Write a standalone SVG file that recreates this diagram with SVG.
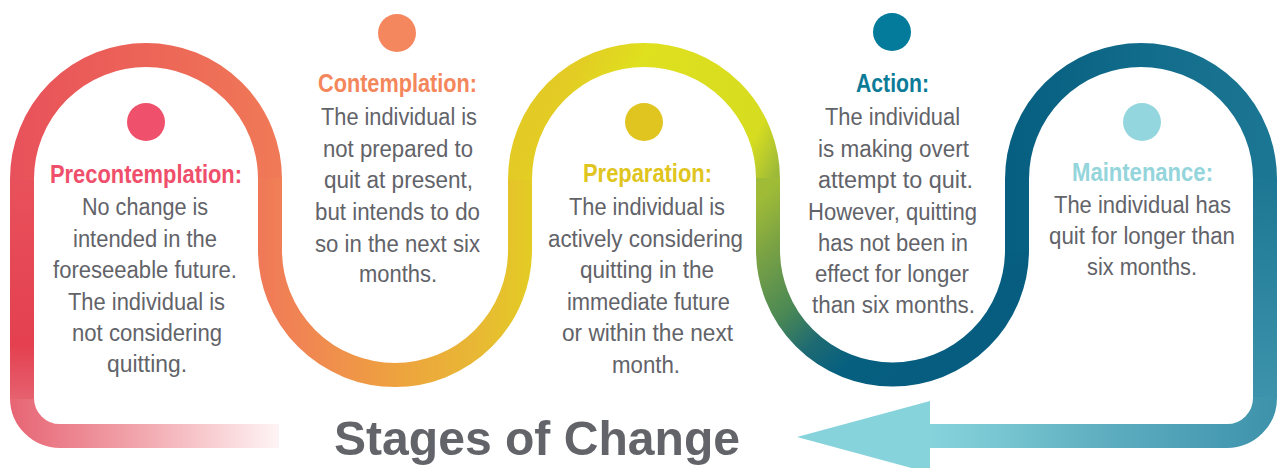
<svg xmlns="http://www.w3.org/2000/svg" width="1278" height="468" viewBox="0 0 1278 468">
<style>
.seg{fill:none;stroke-width:24;stroke-linecap:butt;stroke-linejoin:round}
.t{font-family:"Liberation Sans",Arial,sans-serif;font-weight:bold;font-size:25px}
.b{font-family:"Liberation Sans",Arial,sans-serif;font-size:23.5px;fill:#626369}
.h{font-family:"Liberation Sans",Arial,sans-serif;font-weight:bold;font-size:48px;fill:#636469}
</style>
<defs>
<linearGradient id="gBL" gradientUnits="userSpaceOnUse" x1="10" y1="0" x2="279" y2="0">
<stop offset="0" stop-color="#e76474"/><stop offset="0.15" stop-color="#ea7985"/><stop offset="0.5" stop-color="#f2a9b0"/><stop offset="0.8" stop-color="#f9d6d9"/><stop offset="1" stop-color="#fef4f5"/>
</linearGradient>
<linearGradient id="gL" gradientUnits="userSpaceOnUse" x1="0" y1="179" x2="0" y2="436">
<stop offset="0" stop-color="#e8515b"/><stop offset="0.646" stop-color="#e4404f"/><stop offset="0.85" stop-color="#e6606e"/><stop offset="1" stop-color="#e9707d"/>
</linearGradient>
<linearGradient id="gR" gradientUnits="userSpaceOnUse" x1="10" y1="0" x2="282" y2="0">
<stop offset="0" stop-color="#e8515b"/><stop offset="0.5" stop-color="#ec6457"/><stop offset="1" stop-color="#f07a57"/>
</linearGradient>
<linearGradient id="gO" gradientUnits="userSpaceOnUse" x1="258" y1="0" x2="532" y2="0">
<stop offset="0" stop-color="#f07858"/><stop offset="0.18" stop-color="#f08752"/><stop offset="0.5" stop-color="#eea23f"/><stop offset="0.8" stop-color="#e8b834"/><stop offset="1" stop-color="#e3cc24"/>
</linearGradient>
<linearGradient id="gY" gradientUnits="userSpaceOnUse" x1="520" y1="100" x2="780" y2="230">
<stop offset="0" stop-color="#e3c926"/><stop offset="0.12" stop-color="#e3cc24"/><stop offset="0.31" stop-color="#dfe01e"/><stop offset="0.78" stop-color="#d6dc20"/><stop offset="0.89" stop-color="#a2bd36"/><stop offset="1" stop-color="#79a243"/>
</linearGradient>
<linearGradient id="gG" gradientUnits="userSpaceOnUse" x1="768" y1="190" x2="918" y2="360">
<stop offset="0" stop-color="#a0bc36"/><stop offset="0.2" stop-color="#7aa244"/><stop offset="0.46" stop-color="#4a8855"/><stop offset="0.64" stop-color="#1e6a72"/><stop offset="0.8" stop-color="#07607f"/><stop offset="1" stop-color="#065d80"/>
</linearGradient>
<linearGradient id="gB" gradientUnits="userSpaceOnUse" x1="1005" y1="0" x2="1277" y2="0">
<stop offset="0" stop-color="#065e80"/><stop offset="0.5" stop-color="#116b8a"/><stop offset="1" stop-color="#1c7794"/>
</linearGradient>
<linearGradient id="gV" gradientUnits="userSpaceOnUse" x1="0" y1="179" x2="0" y2="400">
<stop offset="0" stop-color="#1c7794"/><stop offset="1" stop-color="#3d93ab"/>
</linearGradient>
<linearGradient id="gC" gradientUnits="userSpaceOnUse" x1="929" y1="0" x2="1277" y2="0">
<stop offset="0" stop-color="#86d3dc"/><stop offset="0.2" stop-color="#78c6d1"/><stop offset="0.5" stop-color="#5eaec0"/><stop offset="0.8" stop-color="#4a9db4"/><stop offset="1" stop-color="#3d93ab"/>
</linearGradient>
</defs>
<rect width="1278" height="468" fill="#ffffff"/>
<g id="connectors">
<path class="seg" stroke="url(#gBL)" d="M 279 436 H 60 A 38 38 0 0 1 22 398"/>
<path class="seg" stroke="url(#gL)" d="M 22 399 V 179"/>
<path class="seg" stroke="url(#gR)" d="M 22 180 V 179 A 124 124 0 0 1 270 179 V 180"/>
<path class="seg" stroke="url(#gO)" d="M 270 178 V 250 A 125 125 0 0 0 520 250 V 178"/>
<path class="seg" stroke="url(#gY)" d="M 520 180 V 179 A 124 124 0 0 1 768 179 V 180"/>
<path class="seg" stroke="url(#gG)" d="M 768 178 V 250 A 124.5 124.5 0 0 0 1017 250 V 249"/>
<path class="seg" stroke="url(#gB)" d="M 1017 251 V 179 A 124 124 0 0 1 1265 179 V 181"/>
<path class="seg" stroke="url(#gV)" d="M 1265 178 V 399"/>
<path class="seg" stroke="url(#gC)" d="M 1265 397 V 398 A 38 38 0 0 1 1227 436 H 928"/>
<polygon points="930,401 797,437 930,473" fill="#86d3dc"/>
</g>
<g id="precontemplation">
<circle cx="146" cy="122" r="19" fill="#ef506b"/>
<text class="t" fill="#ef4f6a" x="50" y="183" textLength="192" lengthAdjust="spacingAndGlyphs">Precontemplation:</text>
<text class="b" x="82" y="215" textLength="126" lengthAdjust="spacingAndGlyphs">No change is</text>
<text class="b" x="73" y="247" textLength="144" lengthAdjust="spacingAndGlyphs">intended in the</text>
<text class="b" x="53" y="278" textLength="184" lengthAdjust="spacingAndGlyphs">foreseeable future.</text>
<text class="b" x="68" y="310" textLength="157" lengthAdjust="spacingAndGlyphs">The individual is</text>
<text class="b" x="72" y="341" textLength="150" lengthAdjust="spacingAndGlyphs">not considering</text>
<text class="b" x="107" y="372" textLength="80" lengthAdjust="spacingAndGlyphs">quitting.</text>
</g>
<g id="contemplation">
<circle cx="397" cy="33" r="19" fill="#f5875f"/>
<text class="t" fill="#f4865c" x="318" y="92" textLength="159" lengthAdjust="spacingAndGlyphs">Contemplation:</text>
<text class="b" x="321" y="125" textLength="156" lengthAdjust="spacingAndGlyphs">The individual is</text>
<text class="b" x="323" y="157" textLength="150" lengthAdjust="spacingAndGlyphs">not prepared to</text>
<text class="b" x="324" y="188" textLength="149" lengthAdjust="spacingAndGlyphs">quit at present,</text>
<text class="b" x="315" y="220" textLength="165" lengthAdjust="spacingAndGlyphs">but intends to do</text>
<text class="b" x="315" y="252" textLength="165" lengthAdjust="spacingAndGlyphs">so in the next six</text>
<text class="b" x="359" y="282" textLength="78" lengthAdjust="spacingAndGlyphs">months.</text>
</g>
<g id="preparation">
<circle cx="644" cy="122" r="19" fill="#e0c520"/>
<text class="t" fill="#e0c520" x="583" y="182" textLength="129" lengthAdjust="spacingAndGlyphs">Preparation:</text>
<text class="b" x="569" y="215" textLength="156" lengthAdjust="spacingAndGlyphs">The individual is</text>
<text class="b" x="548" y="247" textLength="195" lengthAdjust="spacingAndGlyphs">actively considering</text>
<text class="b" x="580" y="278" textLength="134" lengthAdjust="spacingAndGlyphs">quitting in the</text>
<text class="b" x="567" y="310" textLength="163" lengthAdjust="spacingAndGlyphs">immediate future</text>
<text class="b" x="562" y="341" textLength="171" lengthAdjust="spacingAndGlyphs">or within the next</text>
<text class="b" x="612" y="373" textLength="68" lengthAdjust="spacingAndGlyphs">month.</text>
</g>
<g id="action">
<circle cx="892" cy="32" r="19" fill="#047b9a"/>
<text class="t" fill="#0c7b98" x="856" y="92" textLength="73" lengthAdjust="spacingAndGlyphs">Action:</text>
<text class="b" x="825" y="125" textLength="135" lengthAdjust="spacingAndGlyphs">The individual</text>
<text class="b" x="818" y="157" textLength="151" lengthAdjust="spacingAndGlyphs">is making overt</text>
<text class="b" x="818" y="188" textLength="155" lengthAdjust="spacingAndGlyphs">attempt to quit.</text>
<text class="b" x="808" y="220" textLength="169" lengthAdjust="spacingAndGlyphs">However, quitting</text>
<text class="b" x="818" y="251" textLength="150" lengthAdjust="spacingAndGlyphs">has not been in</text>
<text class="b" x="815" y="282" textLength="154" lengthAdjust="spacingAndGlyphs">effect for longer</text>
<text class="b" x="812" y="313" textLength="163" lengthAdjust="spacingAndGlyphs">than six months.</text>
</g>
<g id="maintenance">
<circle cx="1142" cy="122" r="19" fill="#94d6dd"/>
<text class="t" fill="#94d5dc" x="1072" y="181" textLength="141" lengthAdjust="spacingAndGlyphs">Maintenance:</text>
<text class="b" x="1054" y="213" textLength="177" lengthAdjust="spacingAndGlyphs">The individual has</text>
<text class="b" x="1049" y="244" textLength="186" lengthAdjust="spacingAndGlyphs">quit for longer than</text>
<text class="b" x="1087" y="275" textLength="110" lengthAdjust="spacingAndGlyphs">six months.</text>
</g>
<g id="title">
<text class="h" x="334" y="455" textLength="406" lengthAdjust="spacingAndGlyphs">Stages of Change</text>
</g>
</svg>
